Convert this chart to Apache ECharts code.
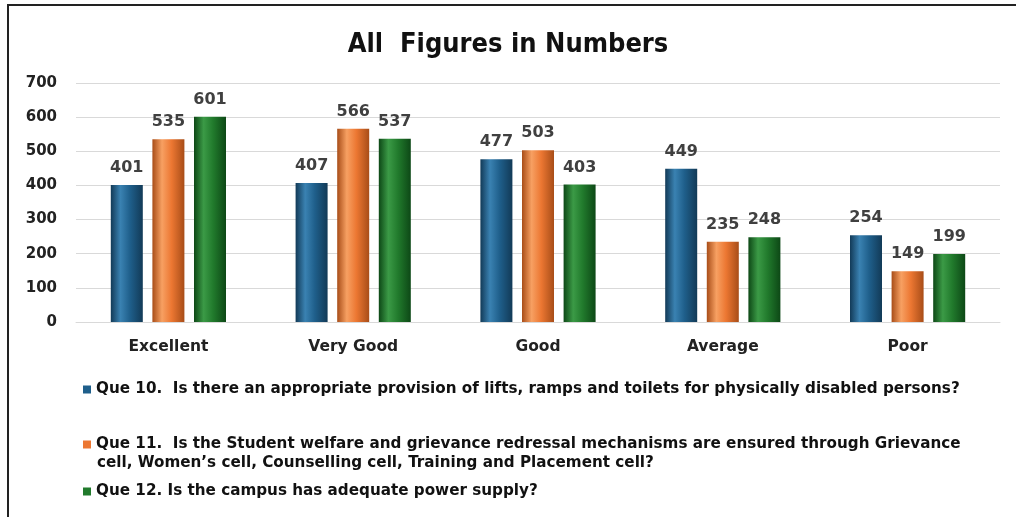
<!DOCTYPE html>
<html>
<head>
<meta charset="utf-8">
<script src="https://cdn.jsdelivr.net/npm/echarts@6/dist/echarts.min.js"></script>
<style>
    html, body { margin: 0; padding: 0; width: 100%; height: 100%; background: #fff; }
    #main { width: 1016px; height: 517px; }
</style>
</head>
<body>
<div id="main"></div>
<script>
    // categories and values
    var categories = ['Excellent', 'Very Good', 'Good', 'Average', 'Poor'];
    var que10 = [401, 407, 477, 449, 254];
    var que11 = [535, 566, 503, 235, 149];
    var que12 = [601, 537, 403, 248, 199];
    var seriesNames = [
        'Que 10.  Is there an appropriate provision of lifts, ramps and toilets for physically disabled persons?',
        'Que 11.  Is the Student welfare and grievance redressal mechanisms are ensured through Grievance cell, Women\u2019s cell, Counselling cell, Training and Placement cell?',
        'Que 12. Is the campus has adequate power supply?'
    ];
    var solidColors = ['#1f5f8b', '#ec7732', '#217a2c'];
    var yTicks = { min: 0, max: 700, interval: 100 };

    // cylinder-ish shading across the bar
    function barFill(dark, light, base) {
        return new echarts.graphic.LinearGradient(0, 0, 1, 0, [
            { offset: 0, color: dark },
            { offset: 0.3, color: light },
            { offset: 0.6, color: base },
            { offset: 1, color: dark }
        ]);
    }

    var fills = [
        barFill('#123a57', '#3a82b2', '#1f5f8b'),
        barFill('#a84d18', '#f7a062', '#ec7732'),
        barFill('#0d4816', '#3b9a46', '#217a2c')
    ];

    var legendText = {
        fontFamily: 'DejaVu Sans',
        fontWeight: 'bold',
        fontSize: 15.2,
        color: '#111'
    };

    function makeSeries(i, data) {
        return {
            name: seriesNames[i],
            type: 'bar',
            data: data,
            barWidth: 32,
            barGap: '30%',
            itemStyle: { color: fills[i] },
            label: {
                show: true,
                position: 'top',
                distance: 9,
                color: '#404040',
                fontFamily: 'DejaVu Sans',
                fontWeight: 'bold',
                fontSize: 16
            }
        };
    }

    function makeLegend(i, top) {
        return {
            data: [{ name: seriesNames[i], itemStyle: { color: solidColors[i] } }],
            left: 78,
            top: top,
            icon: 'rect',
            itemWidth: 8,
            itemHeight: 8,
            itemGap: 0,
            textStyle: legendText,
            formatter: function (name) {
                // the second question wraps; its tail is drawn as a separate line below
                var cut = name.indexOf(' cell, Women');
                return cut > 0 ? name.slice(0, cut) : name;
            }
        };
    }

    var chart = echarts.init(document.getElementById('main'));
    chart.setOption({
        animation: false,
        backgroundColor: '#fff',
        title: {
            text: 'All  Figures in Numbers',
            left: 'center',
            top: 26,
            textStyle: {
                fontFamily: 'DejaVu Sans Condensed',
                fontWeight: 'bold',
                fontSize: 27,
                color: '#111'
            }
        },
        graphic: [{
            type: 'rect',
            shape: { x: 8, y: 5, width: 1030, height: 530 },
            style: { fill: 'none', stroke: '#222', lineWidth: 2 },
            silent: true
        }, {
            type: 'text',
            left: 97,
            top: 456,
            style: {
                text: 'cell, Women\u2019s cell, Counselling cell, Training and Placement cell?',
                font: 'bold 15.2px "DejaVu Sans"',
                fill: '#111'
            }
        }],
        legend: [
            makeLegend(0, 377),
            makeLegend(1, 432),
            makeLegend(2, 479)
        ],
        grid: { left: 76, right: 16, top: 83, bottom: 195 },
        xAxis: {
            type: 'category',
            data: categories,
            axisTick: { show: false },
            axisLine: { lineStyle: { color: '#d9d9d9' } },
            axisLabel: {
                margin: 17,
                color: '#222',
                fontFamily: 'DejaVu Sans',
                fontWeight: 'bold',
                fontSize: 15.5
            }
        },
        yAxis: {
            type: 'value',
            min: yTicks.min,
            max: yTicks.max,
            interval: yTicks.interval,
            axisLine: { show: false },
            axisTick: { show: false },
            splitLine: { lineStyle: { color: '#d9d9d9', width: 1 } },
            axisLabel: {
                margin: 19,
                color: '#222',
                fontFamily: 'DejaVu Sans',
                fontWeight: 'bold',
                fontSize: 15
            }
        },
        series: [
            makeSeries(0, que10),
            makeSeries(1, que11),
            makeSeries(2, que12)
        ]
    });
</script>
</body>
</html>
